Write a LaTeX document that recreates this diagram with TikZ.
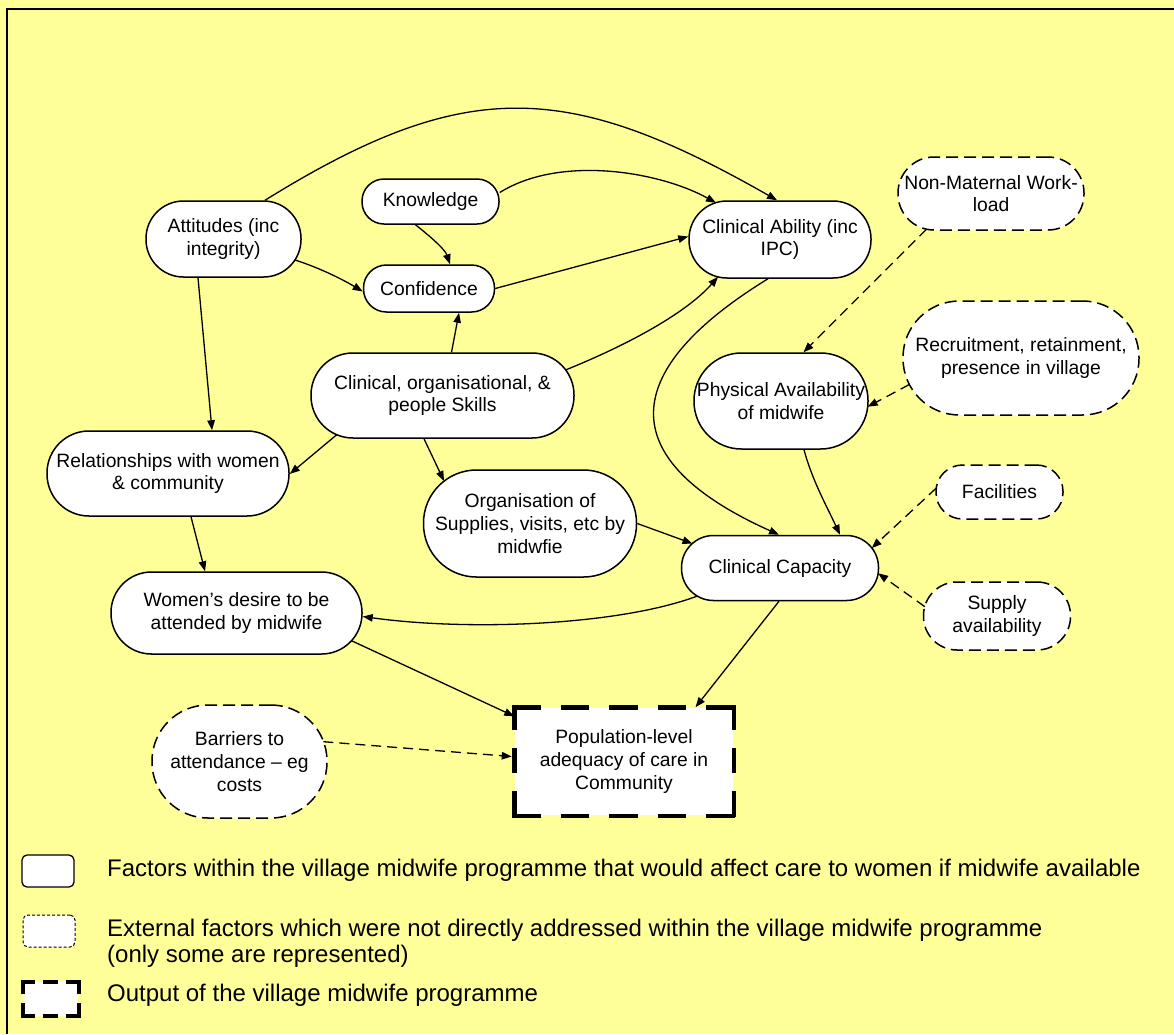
\documentclass[tikz,border=0pt]{standalone}
\usepackage{fontspec}
\setmainfont{Liberation Sans}
\usetikzlibrary{arrows.meta}
\definecolor{bgyellow}{RGB}{255,255,153}
\begin{document}
\begin{tikzpicture}[x=1pt,y=-1pt,
  nf/.style={font=\fontsize{19.3pt}{22.7pt}\selectfont},
  lf/.style={font=\fontsize{24pt}{26pt}\selectfont, inner sep=0pt},
  fbox/.style={draw=black, line width=1.5pt, fill=white, inner sep=0pt, align=center, nf},
  ebox/.style={fbox, dash pattern=on 12pt off 6pt},
  sz/.style n args={3}{minimum width=#1pt, minimum height=#2pt, rounded corners=#3pt},
  arr/.style={line width=1.3pt, -{Triangle[length=10pt,width=7.5pt]}},
  darr/.style={arr, dash pattern=on 10pt off 6pt},
  popline/.style={line width=4.5pt},
  lgline/.style={line width=4pt},
]
\useasboundingbox (0,0) rectangle (1174,1034);
\fill[bgyellow] (0,0) rectangle (1174,1034);
\draw[line width=2.5pt] (7,1034) -- (7,9) -- (1174,9);

% nodes
\node[fbox, sz={155}{76}{37.5}] (att) at (223.5,239) {Attitudes (inc\\integrity)};
\node[fbox, sz={137}{45}{22}] (kn) at (430.5,201.5) {Knowledge};
\node[fbox, sz={131}{47}{23}] (conf) at (429,288.5) {Confidence};
\node[fbox, sz={263}{85}{42}] (sk) at (442.5,395.5) {Clinical, organisational, \&\\people Skills};
\node[fbox, sz={182}{77}{38}] (cab) at (780,239.5) {Clinical Ability (inc\\IPC)};
\node[ebox, sz={186}{73}{36}] (nm) at (991,193.5) {Non-Maternal Work-\\load};
\node[fbox, sz={174}{96}{47.5}] (pa) at (781,401) {Physical Availability\\of midwife};
\node[ebox, sz={236}{114}{56.5}] (rec) at (1021,358) {Recruitment, retainment,\\presence in village};
\node[fbox, sz={242}{85}{42}] (rel) at (168,473.5) {Relationships with women\\\& community};
\node[fbox, sz={213}{107}{53}] (org) at (530,523.5) {Organisation of\\Supplies, visits, etc by\\midwfie};
\node[fbox, sz={251}{82}{40.5}] (wd) at (236.5,613) {Women’s desire to be\\attended by midwife};
\node[ebox, sz={175}{113}{56}] (bar) at (239.5,761.5) {Barriers to\\attendance – eg\\costs};
\node[fbox, draw=none, minimum width=218pt, minimum height=107pt] (pop) at (624,761.5) {Population-level\\adequacy of care in\\Community};
\node[fbox, sz={197}{65}{32}] (cc) at (780,568) {Clinical Capacity};
\node[ebox, sz={127}{54}{26.5}] (facl) at (999.5,492) {Facilities};
\node[ebox, sz={147}{68}{33.5}] (sup) at (997,616) {Supply\\availability};

% thick dashed border of output box
\draw[popline, dash pattern=on 28.5pt off 20pt] ([shift={(-2.25,0)}]pop.north west) -- ([shift={(2.25,0)}]pop.north east);
\draw[popline, dash pattern=on 28.5pt off 20pt] ([shift={(-2.25,0)}]pop.south west) -- ([shift={(2.25,0)}]pop.south east);
\draw[popline, dash pattern=on 25.17pt off 18pt] ([shift={(0,-2.25)}]pop.north west) -- ([shift={(0,2.25)}]pop.south west);
\draw[popline, dash pattern=on 25.17pt off 18pt] ([shift={(0,-2.25)}]pop.north east) -- ([shift={(0,2.25)}]pop.south east);

% solid connectors
\draw[arr] ([shift={(41.5,0)}]att.north) .. controls +(200,-124) and +(-210,-120) .. ([shift={(-3,0)}]cab.north);
\draw[arr] ([shift={(0,-9)}]kn.east) .. controls +(61,-38) and +(-56,-31) .. ([shift={(-64,-36.7)}]cab.center);
\draw[arr] ([shift={(-15,0)}]kn.south) .. controls +(15,12) and +(-5,-15) .. ([shift={(21,0)}]conf.north);
\draw[arr] ([shift={(71.5,21)}]att.center) .. controls +(25,8) and +(-20,-12) .. ([shift={(0,3)}]conf.west);
\draw[arr] (conf.east) -- ([shift={(0,-3)}]cab.west);
\draw[arr] ([shift={(9,0)}]sk.north) -- ([shift={(30,0)}]conf.south);
\draw[arr] ([shift={(123,-25.5)}]sk.center) .. controls +(74,-30) and +(-28,32) .. ([shift={(-62,37.3)}]cab.center);
\draw[arr] ([shift={(-25.5,0)}]att.south) -- ([shift={(44,0)}]rel.north);
\draw[arr] ([shift={(-105.5,39)}]sk.center) -- ([shift={(0,0.5)}]rel.east);
\draw[arr] ([shift={(-18.5,0)}]sk.south) -- ([shift={(-86,-42.5)}]org.center);
\draw[arr] ([shift={(23,0)}]rel.south) -- ([shift={(-31.5,0)}]wd.north);
\draw[arr] (org.east) -- ([shift={(-87.5,-24.4)}]cc.center);
\draw[arr] ([shift={(-12,0)}]cab.south) .. controls +(-148,91) and +(-169,-76) .. ([shift={(-1,0)}]cc.north);
\draw[arr] ([shift={(23,0)}]pa.south) .. controls +(8,30) and +(-14,-30) .. ([shift={(60,0)}]cc.north);
\draw[arr] ([shift={(-82.6,28)}]cc.center) .. controls +(-77,29) and +(108,15) .. ([shift={(0,3.5)}]wd.east);
\draw[arr] ([shift={(114.8,27.6)}]wd.center) -- ([shift={(0,9)}]pop.north west);
\draw[arr] ([shift={(-1,0)}]cc.south) -- ([shift={(71.5,0)}]pop.north);

% dashed connectors
\draw[darr] ([shift={(-64.4,35.6)}]nm.center) -- ([shift={(22.5,0)}]pa.north);
\draw[darr] ([shift={(-111.5,26.4)}]rec.center) -- ([shift={(86.7,5.7)}]pa.center);
\draw[darr] ([shift={(-63.2,-4)}]facl.center) -- ([shift={(91.7,-19.9)}]cc.center);
\draw[darr] ([shift={(-72.1,-9.3)}]sup.center) -- ([shift={(98.1,5.3)}]cc.center);
\draw[darr] ([shift={(83.9,-19.8)}]bar.center) -- ([shift={(-2.5,-5)}]pop.west);

% legend
\node[draw=black, line width=1.3pt, fill=white, rounded corners=5pt, minimum width=52pt, minimum height=32pt, inner sep=0pt] (lg1) at (48,871) {};
\node[draw=black, line width=1pt, dash pattern=on 3pt off 2pt, fill=white, rounded corners=5pt, minimum width=52pt, minimum height=32pt, inner sep=0pt] (lg2) at (49,931) {};
\node[fill=white, minimum width=55.6pt, minimum height=34pt, inner sep=0pt] (lg3) at (50.5,999) {};
\draw[lgline, dash pattern=on 14.53pt off 8pt] ([shift={(-2,0)}]lg3.north west) -- ([shift={(2,0)}]lg3.north east);
\draw[lgline, dash pattern=on 14.53pt off 8pt] ([shift={(-2,0)}]lg3.south west) -- ([shift={(2,0)}]lg3.south east);
\draw[lgline, dash pattern=on 14.5pt off 9pt] ([shift={(0,-2)}]lg3.north west) -- ([shift={(0,2)}]lg3.south west);
\draw[lgline, dash pattern=on 14.5pt off 9pt] ([shift={(0,-2)}]lg3.north east) -- ([shift={(0,2)}]lg3.south east);

\node[lf, anchor=base west] (t1) at (107,876.7) {Factors within the village midwife programme that would affect care to women if midwife available};
\node[lf, anchor=base west, align=left] (t2) at (107,962.5) {External factors which were not directly addressed within the village midwife programme\\(only some are represented)};
\node[lf, anchor=base west] (t3) at (107,1001.7) {Output of the village midwife programme};
\end{tikzpicture}
\end{document}
